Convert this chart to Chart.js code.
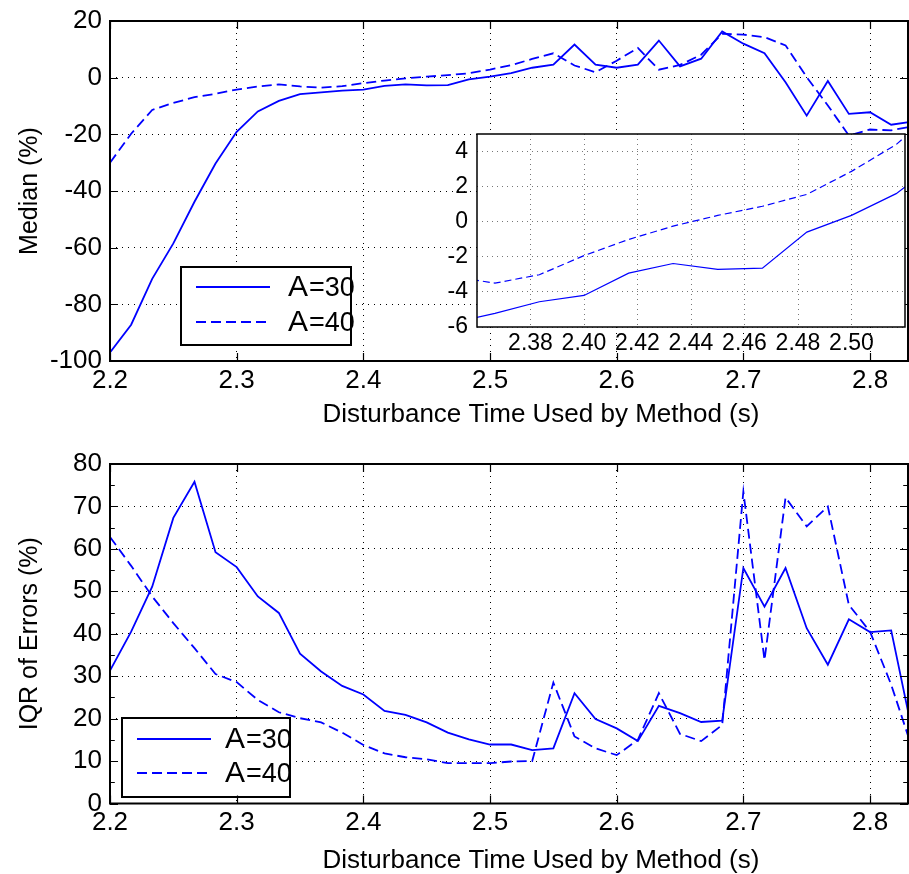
<!DOCTYPE html>
<html>
<head>
<meta charset="utf-8">
<script src="https://cdn.jsdelivr.net/npm/chart.js@4.4.1/dist/chart.umd.min.js"></script>
<style>
  html, body { margin: 0; padding: 0; background: #fff; }
  #page { position: relative; width: 909px; height: 874px; overflow: hidden; }
  canvas { position: absolute; }
</style>
</head>
<body>
<div id="page">
  <canvas id="median-chart" width="973" height="440" style="left:0;top:0"></canvas>
  <canvas id="iqr-chart" width="973" height="434" style="left:0;top:440px"></canvas>
  <canvas id="inset-chart" width="489" height="255" style="left:420px;top:110px"></canvas>
</div>
<script>
// disturbance times (s)
const times = [
  2.2000, 2.2167, 2.2333, 2.2500, 2.2667, 2.2833, 2.3000, 2.3167, 2.3333, 2.3500,
  2.3667, 2.3833, 2.4000, 2.4167, 2.4333, 2.4500, 2.4667, 2.4833, 2.5000, 2.5167,
  2.5333, 2.5500, 2.5667, 2.5833, 2.6000, 2.6167, 2.6333, 2.6500, 2.6667, 2.6833,
  2.7000, 2.7167, 2.7333, 2.7500, 2.7667, 2.7833, 2.8000, 2.8167, 2.8333
];

// median error (%)
const medianA30 = [
  -97, -87.2, -71, -58.5, -43.8, -30.3, -19.1, -11.9, -8.2, -5.8,
  -5.22, -4.56, -4.2, -2.93, -2.38, -2.71, -2.65, -0.59, 0.36, 1.6,
  3.5, 4.6, 11.7, 4.6, 3.5, 4.6, 13.1, 4.0, 6.7, 16.3,
  12, 8.6, -1.6, -13.4, -1.2, -12.8, -12.2, -16.6, -15.5
];
const medianA40 = [
  -30, -19.8, -11.4, -8.9, -6.9, -5.7, -4.2, -3.1, -2.4, -3.1,
  -3.5, -3.02, -1.93, -1.01, -0.25, 0.36, 0.88, 1.56, 2.87, 4.4,
  6.6, 8.6, 4.3, 1.9, 6.0, 10.5, 2.8, 4.5, 8.1, 15.5,
  15.2, 14.3, 11.4, 0.2, -9.8, -20.4, -18.3, -18.6, -17.2
];

// IQR of errors (%)
const iqrA30 = [
  31.3, 40.5, 51.1, 67.3, 75.8, 59.2, 55.7, 48.8, 44.9, 35.3,
  31.1, 27.7, 25.7, 21.8, 20.9, 19.1, 16.7, 15.1, 13.9, 13.9,
  12.6, 13.0, 26.0, 19.9, 17.7, 14.7, 23.0, 21.3, 19.2, 19.5,
  55.5, 46.4, 55.5, 41.3, 32.7, 43.4, 40.4, 40.8, 17
];
const iqrA40 = [
  62.8, 56.0, 48.8, 42.5, 36.6, 30.5, 28.6, 24.4, 21.5, 20.1,
  19.1, 16.7, 13.8, 11.8, 10.9, 10.4, 9.5, 9.5, 9.5, 9.9,
  10.0, 28.5, 15.8, 13.0, 11.4, 15.0, 26.0, 16.4, 14.7, 18.5,
  73.5, 33.8, 72.1, 65.3, 70.0, 46.8, 40.5, 28.0, 13
];

const seriesLabels = ['A=30', 'A=40'];
const xTitle = 'Disturbance Time Used by Method (s)';

const mainXTicks = [2.2, 2.3, 2.4, 2.5, 2.6, 2.7, 2.8];
const medianYTicks = [-100, -80, -60, -40, -20, 0, 20];
const iqrYTicks = [0, 10, 20, 30, 40, 50, 60, 70, 80];
const iqrMinorTicks = [5, 15, 25, 35, 45, 55, 65, 75];
const insetXTicks = [2.38, 2.40, 2.42, 2.44, 2.46, 2.48, 2.50];
const insetYTicks = [-6, -4, -2, 0, 2, 4];

const BLUE = '#0000ff';
const FONT = "'Liberation Sans', Arial, Helvetica, sans-serif";

Chart.defaults.font.family = FONT;
Chart.defaults.color = '#000';

const toPoints = ys => times.map((t, i) => ({ x: t, y: ys[i] }));
const fixedTicks = values => scale => { scale.ticks = values.map(v => ({ value: v })); };

// MATLAB-ish axes box: frame, inward tick marks, boxed legend.
// The figure is cropped on the right, so the visible frame edge can sit at xEdge.
const matlabAxes = {
    id: 'matlabAxes',
    beforeDraw(chart, args, opts) {
        if (!opts.fillArea) return;
        const { ctx, chartArea: a } = chart;
        ctx.save();
        ctx.fillStyle = '#fff';
        ctx.fillRect(a.left, a.top, a.width, a.height);
        ctx.restore();
    },
    afterDatasetsDraw(chart, args, opts) {
        const lg = opts.legend;
        if (!lg) return;
        const ctx = chart.ctx;
        ctx.save();
        ctx.fillStyle = '#fff';
        ctx.fillRect(lg.x, lg.y, lg.w, lg.h);
        lg.rows.forEach((row, i) => {
            const yy = lg.y + lg.rowY[i];
            ctx.beginPath();
            ctx.strokeStyle = BLUE;
            ctx.lineWidth = 1.8;
            ctx.setLineDash(row.dash || []);
            ctx.moveTo(lg.x + lg.lineX0, yy);
            ctx.lineTo(lg.x + lg.lineX1, yy);
            ctx.stroke();
            ctx.setLineDash([]);
            ctx.fillStyle = '#000';
            ctx.textBaseline = 'middle';
            ctx.textAlign = 'left';
            const head = row.label.slice(0, 1);
            const tail = row.label.slice(1);
            ctx.font = `30px ${FONT}`;
            let tx = lg.x + lg.textX;
            ctx.fillText(head, tx, yy + 1);
            tx += ctx.measureText(head).width + 1;
            ctx.font = `27px ${FONT}`;
            ctx.fillText(tail, tx, yy + 2);
        });
        ctx.strokeStyle = '#000';
        ctx.lineWidth = 2;
        ctx.strokeRect(lg.x, lg.y, lg.w, lg.h);
        ctx.restore();
    },
    afterDraw(chart, args, opts) {
        const { ctx, chartArea: a, scales: { x, y } } = chart;
        const right = opts.xEdge !== undefined ? Math.round(x.getPixelForValue(opts.xEdge)) : a.right;
        ctx.save();
        ctx.strokeStyle = '#000';
        const len = opts.tickLen || 0;
        if (len) {
            ctx.lineWidth = 1.2;
            ctx.beginPath();
            x.ticks.forEach(t => {
                const px = Math.round(x.getPixelForValue(t.value)) + 0.5;
                ctx.moveTo(px, a.bottom); ctx.lineTo(px, a.bottom - len);
                ctx.moveTo(px, a.top); ctx.lineTo(px, a.top + len);
            });
            const yMark = (v, l) => {
                const py = Math.round(y.getPixelForValue(v)) + 0.5;
                ctx.moveTo(a.left, py); ctx.lineTo(a.left + l, py);
                ctx.moveTo(right, py); ctx.lineTo(right - l, py);
            };
            y.ticks.forEach(t => yMark(t.value, len));
            (opts.minorY || []).forEach(v => yMark(v, len * 0.6));
            ctx.stroke();
        }
        ctx.lineWidth = opts.frameWidth || 2;
        ctx.strokeRect(a.left, a.top, right - a.left, a.height);
        ctx.restore();
    }
};

function lineSets(solid, dashed, width, dash) {
    return [
        { label: seriesLabels[0], data: toPoints(solid), borderColor: BLUE, borderWidth: width,
          pointRadius: 0, tension: 0, fill: false },
        { label: seriesLabels[1], data: toPoints(dashed), borderColor: BLUE, borderWidth: width,
          borderDash: dash, pointRadius: 0, tension: 0, fill: false }
    ];
}

function mainScales(yMin, yMax, yTicks, yTitle, xHeight, titlePad) {
    return {
        x: {
            type: 'linear', min: 2.2, max: 2.8805,
            afterBuildTicks: fixedTicks(mainXTicks),
            afterFit: s => { s.height = xHeight; },
            ticks: { callback: v => v.toFixed(1), font: { size: 26 }, padding: 4, maxRotation: 0 },
            grid: { color: '#000', lineWidth: 1, drawTicks: false },
            border: { display: false, dash: [1, 5] },
            title: { display: true, text: xTitle, font: { size: 26, lineHeight: 1 },
                     padding: { top: 0, bottom: titlePad } }
        },
        y: {
            type: 'linear', min: yMin, max: yMax,
            afterBuildTicks: fixedTicks(yTicks),
            afterFit: s => { s.width = 110; },
            ticks: { font: { size: 26, lineHeight: 1 }, padding: 8 },
            grid: { color: '#000', lineWidth: 1, drawTicks: false },
            border: { display: false, dash: [1, 5] },
            title: { display: true, text: yTitle, font: { size: 25, lineHeight: 1 },
                     padding: { top: 18, bottom: 0 } }
        }
    };
}

const baseOptions = {
    responsive: false,
    animation: false,
    devicePixelRatio: 1,
    plugins: { legend: { display: false }, tooltip: { enabled: false } }
};

const medianChart = new Chart(document.getElementById('median-chart'), {
    type: 'line',
    data: { datasets: lineSets(medianA30, medianA40, 1.8, [10, 5]) },
    options: {
        ...baseOptions,
        layout: { padding: { top: 21, right: 1, left: 0, bottom: 0 } },
        scales: mainScales(-100, 20, medianYTicks, 'Median (%)', 79, 12),
        plugins: {
            ...baseOptions.plugins,
            matlabAxes: {
                tickLen: 8, frameWidth: 2, xEdge: 2.83,
                legend: { x: 181, y: 267, w: 170, h: 78, lineX0: 15, lineX1: 89, textX: 107,
                          rowY: [20, 55], rows: [{ label: seriesLabels[0] }, { label: seriesLabels[1], dash: [10, 5] }] }
            }
        }
    },
    plugins: [matlabAxes]
});

const iqrChart = new Chart(document.getElementById('iqr-chart'), {
    type: 'line',
    data: { datasets: lineSets(iqrA30, iqrA40, 1.8, [10, 5]) },
    options: {
        ...baseOptions,
        layout: { padding: { top: 24, right: 1, left: 0, bottom: 0 } },
        scales: mainScales(0, 80, iqrYTicks, 'IQR of Errors (%)', 70.5, 0),
        plugins: {
            ...baseOptions.plugins,
            matlabAxes: {
                tickLen: 8, frameWidth: 2, xEdge: 2.83, minorY: iqrMinorTicks,
                legend: { x: 122, y: 278, w: 168, h: 79, lineX0: 15, lineX1: 89, textX: 103,
                          rowY: [21, 55], rows: [{ label: seriesLabels[0] }, { label: seriesLabels[1], dash: [10, 5] }] }
            }
        }
    },
    plugins: [matlabAxes]
});

const insetChart = new Chart(document.getElementById('inset-chart'), {
    type: 'line',
    data: { datasets: lineSets(medianA30, medianA40, 1.2, [7, 4]) },
    options: {
        ...baseOptions,
        layout: { padding: { top: 24, right: 4, left: 0, bottom: 0 } },
        scales: {
            x: {
                type: 'linear', min: 2.36, max: 2.52,
                afterBuildTicks: fixedTicks(insetXTicks),
                afterFit: s => { s.height = 38; },
                ticks: { callback: v => v.toFixed(2), font: { size: 23 }, padding: 3, maxRotation: 0, autoSkip: false },
                grid: { color: '#777', lineWidth: 1, drawTicks: false },
                border: { display: false, dash: [1, 4] }
            },
            y: {
                type: 'linear', min: -6, max: 5,
                afterBuildTicks: fixedTicks(insetYTicks),
                afterFit: s => { s.width = 57; },
                ticks: { font: { size: 23, lineHeight: 1 }, padding: 9 },
                grid: { color: '#777', lineWidth: 1, drawTicks: false },
                border: { display: false, dash: [1, 4] }
            }
        },
        plugins: {
            ...baseOptions.plugins,
            matlabAxes: { fillArea: true, tickLen: 0, frameWidth: 1.5 }
        }
    },
    plugins: [matlabAxes]
});
</script>
</body>
</html>
